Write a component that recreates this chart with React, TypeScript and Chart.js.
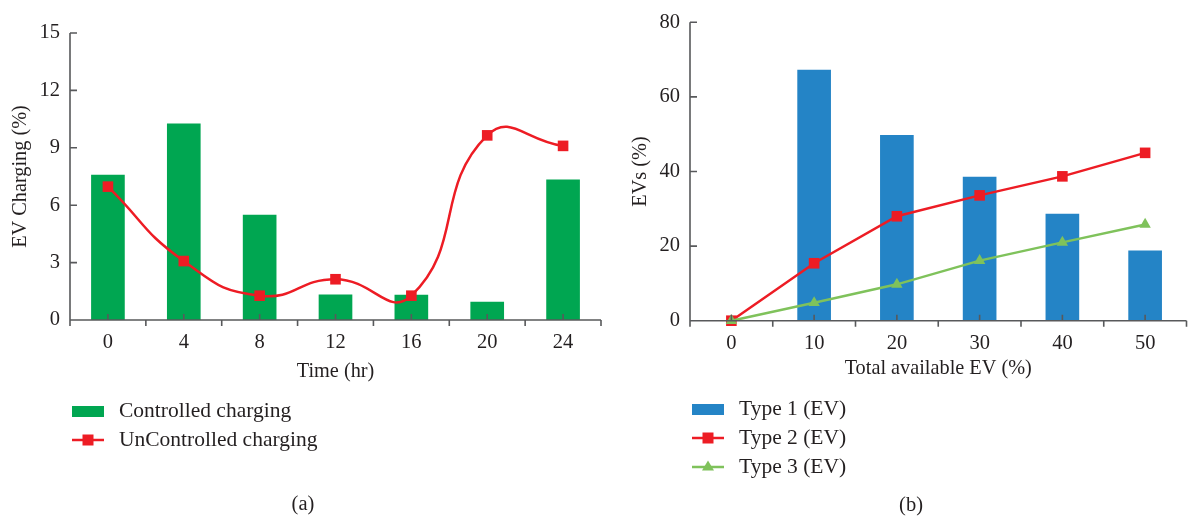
import React, { useEffect, useRef } from 'react';
import { Chart, registerables } from 'chart.js';

Chart.register(...registerables);

const FONT = "'Liberation Serif', 'Times New Roman', serif";
const TEXT = '#231f20';
const AXIS = '#58595b';
const GREEN = '#00a651';
const RED = '#ed1c24';
const BLUE = '#2484c6';
const LIGHTGREEN = '#7fc25b';

// ---- Panel (a) data ----
const timeLabels = ['0', '4', '8', '12', '16', '20', '24'];
const controlledCharging = [7.58, 10.25, 5.49, 1.31, 1.3, 0.94, 7.32];
const uncontrolledCharging = [6.97, 3.08, 1.27, 2.13, 1.27, 9.65, 9.1];
const yTicksA = { min: 0, max: 15, step: 3 };

// ---- Panel (b) data ----
const evLabels = ['0', '10', '20', '30', '40', '50'];
const type1 = [null, 67.2, 49.7, 38.5, 28.6, 18.7];
const type2 = [0, 15.4, 28.0, 33.6, 38.7, 45.0];
const type3 = [0, 4.8, 9.75, 16.1, 21.0, 25.8];
const yTicksB = { min: 0, max: 80, step: 20 };

type LegendItem = { kind: 'box' | 'line'; color: string; marker?: 'rect' | 'triangle'; text: string };

const axesPlugin = {
  id: 'customAxes',
  afterDatasetsDraw(chart: any) {
    const { ctx, chartArea, scales } = chart;
    const { left, right, top, bottom } = chartArea;
    const x = scales.x;
    const y = scales.y;
    ctx.save();
    ctx.strokeStyle = AXIS;
    ctx.lineWidth = 1.6;
    ctx.beginPath();
    ctx.moveTo(left, top);
    ctx.lineTo(left, bottom);
    ctx.moveTo(left, bottom);
    ctx.lineTo(right, bottom);
    y.ticks.forEach((t: any) => {
      const py = y.getPixelForValue(t.value);
      ctx.moveTo(left, py);
      ctx.lineTo(left + 7, py);
    });
    const n = x.ticks.length;
    for (let i = 0; i < n; i++) {
      const px = x.getPixelForValue(i);
      ctx.moveTo(px, bottom);
      ctx.lineTo(px, bottom - 6);
    }
    for (let i = 0; i <= n; i++) {
      const bx = left + ((right - left) * i) / n;
      ctx.moveTo(bx, bottom);
      ctx.lineTo(bx, bottom + 6);
    }
    ctx.stroke();
    ctx.restore();
  },
};

function makeLegendPlugin(items: LegendItem[], x0: number, y0: number, gap: number, caption: string, capX: number, capY: number) {
  return {
    id: 'customLegend',
    afterDraw(chart: any) {
      const ctx = chart.ctx;
      ctx.save();
      ctx.textBaseline = 'middle';
      items.forEach((it, i) => {
        const cy = y0 + i * gap;
        if (it.kind === 'box') {
          ctx.fillStyle = it.color;
          ctx.fillRect(x0, cy - 5, 32, 11);
        } else {
          ctx.strokeStyle = it.color;
          ctx.lineWidth = 2.5;
          ctx.beginPath();
          ctx.moveTo(x0, cy);
          ctx.lineTo(x0 + 32, cy);
          ctx.stroke();
          ctx.fillStyle = it.color;
          const mx = x0 + 16;
          if (it.marker === 'rect') {
            ctx.fillRect(mx - 5.5, cy - 5.5, 11, 11);
          } else if (it.marker === 'triangle') {
            ctx.beginPath();
            ctx.moveTo(mx, cy - 6.5);
            ctx.lineTo(mx + 6, cy + 3.5);
            ctx.lineTo(mx - 6, cy + 3.5);
            ctx.closePath();
            ctx.fill();
          }
        }
        ctx.font = `21.5px ${FONT}`;
        ctx.fillStyle = TEXT;
        ctx.textAlign = 'left';
        ctx.fillText(it.text, x0 + 47, cy);
      });
      ctx.font = `20.5px ${FONT}`;
      ctx.textAlign = 'center';
      ctx.fillStyle = TEXT;
      ctx.fillText(caption, capX, capY);
      ctx.restore();
    },
  };
}

function baseScales(xTitle: string, yTitle: string, yt: { min: number; max: number; step: number }, xTitlePad: number) {
  const font = { family: FONT, size: 20.5 };
  const tfont = { family: FONT, size: 20.3 };
  return {
    x: {
      type: 'category',
      offset: true,
      grid: { display: false, drawTicks: false },
      border: { display: false },
      ticks: { color: TEXT, font, padding: 10.3, maxRotation: 0, autoSkip: false },
      title: { display: true, text: xTitle, color: TEXT, font: tfont, padding: { top: 0, bottom: xTitlePad } },
      afterFit: (s: any) => {
        s.height = 70;
      },
    },
    y: {
      type: 'linear',
      min: yt.min,
      max: yt.max,
      grid: { display: false, drawTicks: false },
      border: { display: false },
      ticks: { stepSize: yt.step, color: TEXT, font, padding: 10 },
      title: { display: true, text: yTitle, color: TEXT, font: tfont, padding: { top: 8, bottom: 0 } },
      afterFit: (s: any) => {
        s.width = 70;
      },
    },
  };
}

function ChartA() {
  const ref = useRef<HTMLCanvasElement>(null);
  useEffect(() => {
    if (!ref.current) return;
    const chart = new Chart(ref.current, {
      type: 'bar',
      data: {
        labels: timeLabels,
        datasets: [
          {
            type: 'line',
            label: 'UnControlled charging',
            data: uncontrolledCharging,
            borderColor: RED,
            backgroundColor: RED,
            borderWidth: 2.5,
            tension: 0.5,
            pointStyle: 'rect',
            pointRadius: 7.5,
            pointBorderWidth: 0,
            pointBackgroundColor: RED,
            order: 0,
            clip: false,
          } as any,
          {
            type: 'bar',
            label: 'Controlled charging',
            data: controlledCharging,
            backgroundColor: GREEN,
            barThickness: 33,
            order: 1,
          },
        ],
      },
      options: {
        responsive: false,
        animation: false,
        devicePixelRatio: 1,
        layout: { padding: { left: 0, right: 19, top: 33, bottom: 130 } },
        plugins: { legend: { display: false }, tooltip: { enabled: false } },
        scales: baseScales('Time (hr)', 'EV Charging (%)', yTicksA, 6) as any,
      },
      plugins: [
        axesPlugin,
        makeLegendPlugin(
          [
            { kind: 'box', color: GREEN, text: 'Controlled charging' },
            { kind: 'line', color: RED, marker: 'rect', text: 'UnControlled charging' },
          ],
          72,
          411,
          29,
          '(a)',
          303,
          505
        ),
      ],
    });
    return () => chart.destroy();
  }, []);
  return <canvas ref={ref} width={620} height={520} style={{ position: 'absolute', left: 0, top: 0, width: 620, height: 520 }} />;
}

function ChartB() {
  const ref = useRef<HTMLCanvasElement>(null);
  useEffect(() => {
    if (!ref.current) return;
    const chart = new Chart(ref.current, {
      type: 'bar',
      data: {
        labels: evLabels,
        datasets: [
          {
            type: 'line',
            label: 'Type 3 (EV)',
            data: type3,
            borderColor: LIGHTGREEN,
            backgroundColor: LIGHTGREEN,
            borderWidth: 2.5,
            tension: 0,
            pointStyle: 'triangle',
            pointRadius: 6.6,
            pointBorderWidth: 0,
            pointBackgroundColor: LIGHTGREEN,
            order: 0,
            clip: false,
          } as any,
          {
            type: 'line',
            label: 'Type 2 (EV)',
            data: type2,
            borderColor: RED,
            backgroundColor: RED,
            borderWidth: 2.5,
            tension: 0,
            pointStyle: 'rect',
            pointRadius: 7.5,
            pointBorderWidth: 0,
            pointBackgroundColor: RED,
            order: 1,
            clip: false,
          } as any,
          {
            type: 'bar',
            label: 'Type 1 (EV)',
            data: type1,
            backgroundColor: BLUE,
            barThickness: 33,
            order: 2,
          },
        ],
      },
      options: {
        responsive: false,
        animation: false,
        devicePixelRatio: 1,
        layout: { padding: { left: 0, right: 1, top: 14, bottom: 129.3 } },
        plugins: { legend: { display: false }, tooltip: { enabled: false } },
        scales: baseScales('Total available EV (%)', 'EVs (%)', yTicksB, 9.7) as any,
      },
      plugins: [
        axesPlugin,
        makeLegendPlugin(
          [
            { kind: 'box', color: BLUE, text: 'Type 1 (EV)' },
            { kind: 'line', color: RED, marker: 'rect', text: 'Type 2 (EV)' },
            { kind: 'line', color: LIGHTGREEN, marker: 'triangle', text: 'Type 3 (EV)' },
          ],
          72,
          409,
          29,
          '(b)',
          291,
          506
        ),
      ],
    });
    return () => chart.destroy();
  }, []);
  return <canvas ref={ref} width={574} height={520} style={{ position: 'absolute', left: 620, top: 0, width: 574, height: 520 }} />;
}

export default function App() {
  return (
    <div style={{ position: 'fixed', left: 0, top: 0, width: 1194, height: 520, background: '#ffffff', overflow: 'hidden' }}>
      <ChartA />
      <ChartB />
    </div>
  );
}
